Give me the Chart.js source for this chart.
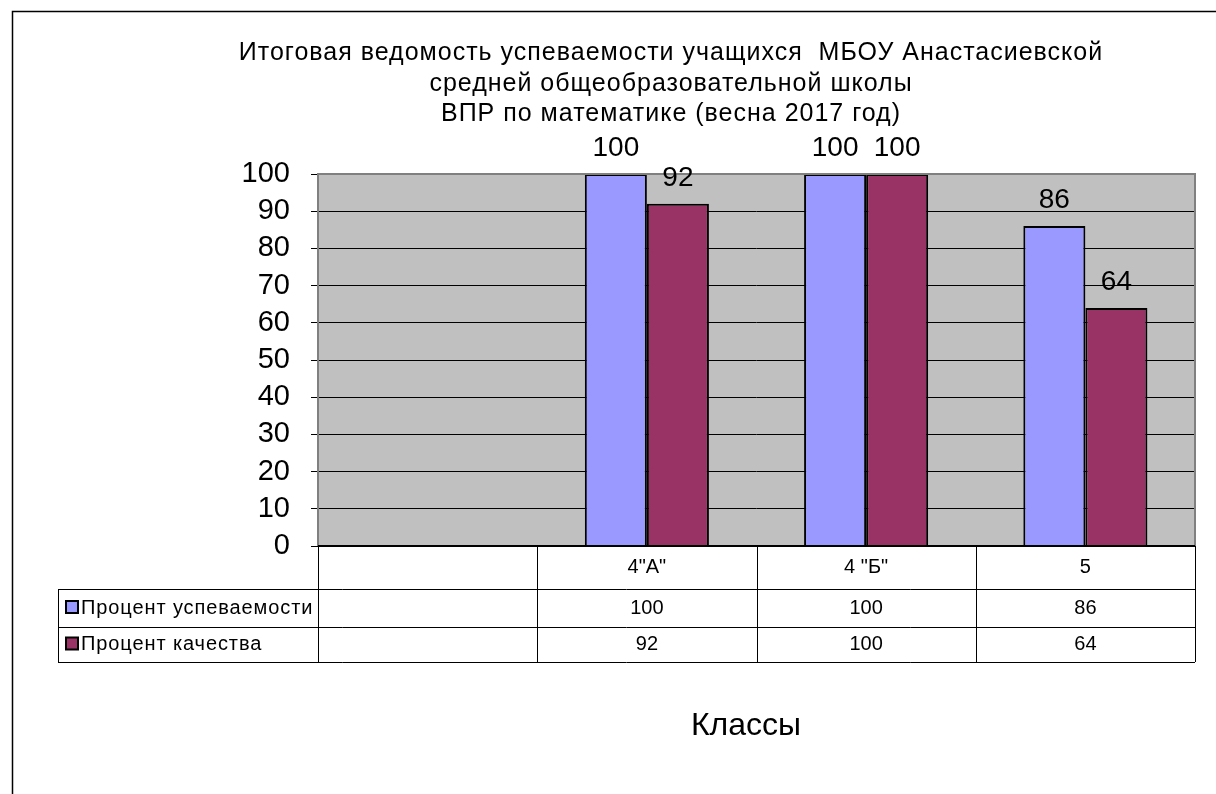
<!DOCTYPE html>
<html>
<head>
<meta charset="utf-8">
<script src="https://cdn.jsdelivr.net/npm/chart.js@4.4.0/dist/chart.umd.min.js"></script>
<style>
  html, body { margin: 0; padding: 0; background: #fff; }
  #wrap { width: 1216px; height: 794px; }
</style>
</head>
<body>
<div id="wrap"><canvas id="chart" width="1216" height="794"></canvas></div>
<script>
// данные
const categories = ['', '4"А"', '4 "Б"', '5'];
const seriesNames = ['Процент успеваемости', 'Процент качества'];
const uspev = [null, 100, 100, 86];
const kach = [null, 92, 100, 64];
const titleLines = [
  'Итоговая ведомость успеваемости учащихся  МБОУ Анастасиевской',
  'средней общеобразовательной школы',
  'ВПР по математике (весна 2017 год)'
];
const axisTitle = 'Классы';

const colors = ['#9999FF', '#993366'];
const FONT = '"Liberation Sans", Arial, sans-serif';

// фон, рамка, заголовок, подписи, таблица данных
const excelPlugin = {
  id: 'excel',
  beforeDraw(chart) {
    const { ctx, chartArea: a } = chart;
    ctx.save();
    ctx.fillStyle = '#fff';
    ctx.fillRect(0, 0, chart.width, chart.height);
    // рамка диаграммы
    ctx.strokeStyle = '#000';
    ctx.lineWidth = 1.5;
    ctx.beginPath();
    ctx.moveTo(12.5, chart.height);
    ctx.lineTo(12.5, 11.5);
    ctx.lineTo(chart.width, 11.5);
    ctx.stroke();
    // область построения
    ctx.fillStyle = '#C0C0C0';
    ctx.fillRect(a.left, a.top, a.right - a.left, a.bottom - a.top);
    ctx.restore();
  },
  afterDatasetsDraw(chart) {
    const { ctx, chartArea: a } = chart;
    const x = chart.scales.x;
    ctx.save();
    // рамка области построения
    ctx.strokeStyle = '#808080';
    ctx.lineWidth = 2;
    ctx.beginPath();
    ctx.moveTo(a.left, a.bottom);
    ctx.lineTo(a.left, a.top);
    ctx.lineTo(a.right, a.top);
    ctx.lineTo(a.right, a.bottom);
    ctx.stroke();
    ctx.strokeStyle = '#000';
    ctx.beginPath();
    ctx.moveTo(a.left, a.bottom);
    ctx.lineTo(a.right, a.bottom);
    ctx.stroke();

    // подписи значений
    ctx.fillStyle = '#000';
    ctx.font = '28px ' + FONT;
    ctx.textAlign = 'center';
    ctx.textBaseline = 'alphabetic';
    chart.data.datasets.forEach((ds, di) => {
      chart.getDatasetMeta(di).data.forEach((bar, i) => {
        if (ds.data[i] == null) return;
        ctx.fillText(String(ds.data[i]), bar.x, bar.y - 18);
      });
    });

    // заголовок
    ctx.font = '25px ' + FONT;
    ctx.letterSpacing = '1px';
    const titleY = [60, 90.5, 121];
    titleLines.forEach((t, i) => ctx.fillText(t, 671, titleY[i]));

    // таблица данных
    const half = (x.getPixelForValue(1) - x.getPixelForValue(0)) / 2;
    const edges = categories.map((c, i) => x.getPixelForValue(i) - half);
    edges.push(x.getPixelForValue(categories.length - 1) + half);
    const rowY = [a.bottom, 589, 627, 662];
    const legendLeft = 58;
    ctx.strokeStyle = '#000';
    ctx.lineWidth = 1;
    ctx.beginPath();
    // горизонтали
    ctx.moveTo(legendLeft, rowY[1] + 0.5); ctx.lineTo(a.right, rowY[1] + 0.5);
    ctx.moveTo(legendLeft, rowY[2] + 0.5); ctx.lineTo(a.right, rowY[2] + 0.5);
    ctx.moveTo(legendLeft, rowY[3] + 0.5); ctx.lineTo(a.right, rowY[3] + 0.5);
    // вертикали
    edges.forEach(ex => {
      const px = Math.round(ex) + 0.5;
      ctx.moveTo(px, rowY[0]); ctx.lineTo(px, rowY[3]);
    });
    ctx.moveTo(legendLeft + 0.5, rowY[1]); ctx.lineTo(legendLeft + 0.5, rowY[3]);
    ctx.stroke();

    ctx.font = '20px ' + FONT;
    ctx.letterSpacing = '0px';
    ctx.textBaseline = 'middle';
    ctx.fillStyle = '#000';
    categories.forEach((c, i) => {
      ctx.fillText(c, x.getPixelForValue(i), (rowY[0] + rowY[1]) / 2);
    });
    const rows = [uspev, kach];
    rows.forEach((vals, r) => {
      const cy = (rowY[r + 1] + rowY[r + 2]) / 2;
      vals.forEach((v, i) => {
        if (v == null) return;
        ctx.fillText(String(v), x.getPixelForValue(i), cy);
      });
      // ключ легенды
      ctx.fillStyle = colors[r];
      ctx.fillRect(66, cy - 7, 12, 12);
      ctx.strokeStyle = '#000';
      ctx.lineWidth = 2;
      ctx.strokeRect(66, cy - 7, 12, 12);
      ctx.fillStyle = '#000';
      ctx.textAlign = 'left';
      ctx.letterSpacing = '0.9px';
      ctx.fillText(seriesNames[r], 81, cy);
      ctx.letterSpacing = '0px';
      ctx.textAlign = 'center';
    });

    // подпись оси
    ctx.font = '32px ' + FONT;
    ctx.textBaseline = 'alphabetic';
    ctx.fillText(axisTitle, 746, 735);
    ctx.restore();
  }
};

new Chart(document.getElementById('chart'), {
  type: 'bar',
  data: {
    labels: categories,
    datasets: [
      { label: seriesNames[0], data: uspev, backgroundColor: colors[0], borderColor: '#000', borderWidth: 2, borderSkipped: 'bottom' },
      { label: seriesNames[1], data: kach, backgroundColor: colors[1], borderColor: '#000', borderWidth: 2, borderSkipped: 'bottom' }
    ]
  },
  options: {
    responsive: false,
    animation: false,
    devicePixelRatio: 1,
    layout: { padding: { left: 0, right: 21, top: 174, bottom: 248 } },
    plugins: { legend: { display: false }, title: { display: false }, tooltip: { enabled: false } },
    datasets: { bar: { categoryPercentage: 0.566, barPercentage: 1 } },
    scales: {
      x: {
        display: false,
        grid: { display: false }
      },
      y: {
        min: 0,
        max: 100,
        afterFit: s => { s.width = 318; },
        ticks: {
          stepSize: 10,
          autoSkip: false,
          color: '#000',
          padding: 21,
          font: { family: FONT, size: 29 }
        },
        grid: {
          color: '#000',
          lineWidth: 1,
          tickLength: 7,
          tickColor: '#000'
        },
        border: { display: false }
      }
    }
  },
  plugins: [excelPlugin]
});
</script>
</body>
</html>
